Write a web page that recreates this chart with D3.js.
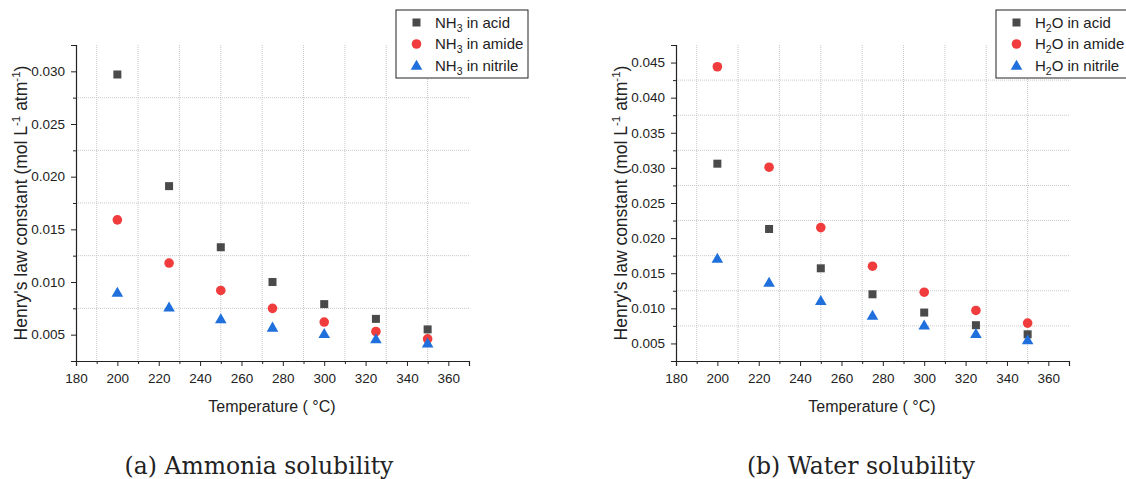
<!DOCTYPE html>
<html>
<head>
<meta charset="utf-8">
<script src="https://cdn.jsdelivr.net/npm/d3@7"></script>
<style>
  body { margin: 0; background: #fff; }
  text { font-family: "Liberation Sans", Arial, sans-serif; fill: #222; }
</style>
</head>
<body>
<div id="chart"></div>
<script>
// temperatures (deg C)
let temps = [200, 225, 250, 275, 300, 325, 350];

// NH3 Henry's law constants
let nh3Acid    = [0.0297, 0.0191, 0.0133, 0.0100, 0.0079, 0.0065, 0.0055];
let nh3Amide   = [0.0159, 0.0118, 0.0092, 0.0075, 0.0062, 0.0053, 0.0046];
let nh3Nitrile = [0.0090, 0.0076, 0.0065, 0.0057, 0.0051, 0.0046, 0.0042];

// H2O Henry's law constants
let h2oAcid    = [0.0306, 0.0213, 0.0157, 0.0120, 0.0094, 0.0076, 0.0063];
let h2oAmide   = [0.0444, 0.0301, 0.0215, 0.0160, 0.0123, 0.0097, 0.0079];
let h2oNitrile = [0.0171, 0.0137, 0.0111, 0.0090, 0.0076, 0.0064, 0.0055];

// axis ticks
let xTicks = [180, 200, 220, 240, 260, 280, 300, 320, 340, 360];
let xGrid = [190, 210, 230, 250, 270, 290, 310, 330, 350];
let leftYTicks = [0.005, 0.010, 0.015, 0.020, 0.025, 0.030];
let leftYGrid = [0.0075, 0.0125, 0.0175, 0.0225, 0.0275];
let rightYTicks = [0.005, 0.010, 0.015, 0.020, 0.025, 0.030, 0.035, 0.040, 0.045];
let rightYGrid = [0.0075, 0.0125, 0.0175, 0.0225, 0.0275, 0.0325, 0.0375, 0.0425];

let colors = {acid: "#4a4a4a", amide: "#f03c3c", nitrile: "#1f6fdd"};

let svg = d3.select("#chart").append("svg")
    .attr("width", 1126)
    .attr("height", 479);

drawPanel({
    left: 76, species: "NH", sub: "3", tail: "",
    yDomain: [0.0025, 0.0325], yTicks: leftYTicks, yGrid: leftYGrid,
    series: [nh3Acid, nh3Amide, nh3Nitrile],
    legendX: 396, legendW: 132,
    caption: "(a) Ammonia solubility", captionX: 259
});
drawPanel({
    left: 676, species: "H", sub: "2", tail: "O",
    yDomain: [0.0025, 0.0475], yTicks: rightYTicks, yGrid: rightYGrid,
    series: [h2oAcid, h2oAmide, h2oNitrile],
    legendX: 996, legendW: 132,
    caption: "(b) Water solubility", captionX: 861
});

function drawPanel(o){
    let top = 45, bottom = 361;
    let g = svg.append("g");

    let x = d3.scaleLinear().domain([180, 370]).range([o.left, o.left + 393]);
    let y = d3.scaleLinear().domain(o.yDomain).range([bottom, top]);

    // dotted grid at minor positions
    g.selectAll(".vgrid").data(xGrid).enter().append("line")
        .attr("x1", d => x(d)).attr("x2", d => x(d))
        .attr("y1", top).attr("y2", bottom)
        .attr("stroke", "#c8c8c8").attr("stroke-width", 1)
        .attr("stroke-dasharray", "1,1");
    g.selectAll(".hgrid").data(o.yGrid).enter().append("line")
        .attr("x1", o.left).attr("x2", x(370))
        .attr("y1", d => y(d)).attr("y2", d => y(d))
        .attr("stroke", "#c8c8c8").attr("stroke-width", 1)
        .attr("stroke-dasharray", "1,1");

    // x axis
    g.append("g")
        .attr("transform", "translate(0," + bottom + ")")
        .call(d3.axisBottom(x).tickValues(xTicks).tickSize(5).tickPadding(7).tickFormat(d3.format("d")));
    g.append("g")
        .attr("transform", "translate(0," + bottom + ")")
        .call(d3.axisBottom(x).tickValues(xGrid.concat([370])).tickSize(3).tickFormat(""))
        .select(".domain").remove();

    // y axis
    g.append("g")
        .attr("transform", "translate(" + o.left + ",0)")
        .call(d3.axisLeft(y).tickValues(o.yTicks).tickSize(5).tickPadding(6).tickFormat(d3.format(".3f")));
    g.append("g")
        .attr("transform", "translate(" + o.left + ",0)")
        .call(d3.axisLeft(y).tickValues(o.yGrid.concat([o.yDomain[1]])).tickSize(3).tickFormat(""))
        .select(".domain").remove();

    g.selectAll(".domain").attr("stroke", "#222").attr("stroke-width", 1.2);
    g.selectAll(".tick line").attr("stroke", "#222");
    g.selectAll(".tick text")
        .style("font-family", "Liberation Sans, Arial, sans-serif")
        .style("font-size", "13.5px").attr("fill", "#222");

    // axis titles
    g.append("text")
        .attr("x", (x(180) + x(370)) / 2 - 0.5)
        .attr("y", 412)
        .attr("text-anchor", "middle")
        .style("font-size", "16px")
        .text("Temperature ( \u00B0C)");

    let yt = g.append("text")
        .attr("transform", "translate(" + (o.left - 49) + "," + ((top + bottom) / 2) + ") rotate(-90)")
        .attr("text-anchor", "middle")
        .style("font-size", "17.5px");
    yt.append("tspan").text("Henry's law constant (mol L");
    yt.append("tspan").attr("dy", -7).style("font-size", "11.5px").text("-1");
    yt.append("tspan").attr("dy", 7).text(" atm");
    yt.append("tspan").attr("dy", -7).style("font-size", "11.5px").text("-1");
    yt.append("tspan").attr("dy", 7).text(")");

    // markers
    let [acid, amide, nitrile] = o.series;
    let tri = d3.symbol().type(d3.symbolTriangle).size(58);

    g.selectAll(".acid").data(acid).enter().append("rect")
        .attr("x", (d, i) => x(temps[i]) - 4)
        .attr("y", d => y(d) - 4)
        .attr("width", 8).attr("height", 8)
        .attr("fill", colors.acid);
    g.selectAll(".amide").data(amide).enter().append("circle")
        .attr("cx", (d, i) => x(temps[i]))
        .attr("cy", d => y(d))
        .attr("r", 4.8)
        .attr("fill", colors.amide);
    g.selectAll(".nitrile").data(nitrile).enter().append("path")
        .attr("d", tri)
        .attr("transform", (d, i) => "translate(" + x(temps[i]) + "," + (y(d) + 1) + ")")
        .attr("fill", colors.nitrile);

    // legend
    let lg = g.append("g").attr("transform", "translate(" + o.legendX + ",10)");
    lg.append("rect")
        .attr("width", o.legendW).attr("height", 68)
        .attr("fill", "#fff").attr("stroke", "#222").attr("stroke-width", 1);
    let labels = ["in acid", "in amide", "in nitrile"];
    labels.forEach((lab, i) => {
        let cy = 12.5 + i * 21.5;
        if (i === 0) {
            lg.append("rect").attr("x", 16.5).attr("y", cy - 4).attr("width", 8).attr("height", 8)
                .attr("fill", colors.acid);
        } else if (i === 1) {
            lg.append("circle").attr("cx", 20.5).attr("cy", cy).attr("r", 4.8).attr("fill", colors.amide);
        } else {
            lg.append("path").attr("d", tri).attr("transform", "translate(20.5," + (cy + 1) + ")")
                .attr("fill", colors.nitrile);
        }
        let t = lg.append("text").attr("x", 39).attr("y", cy + 5).style("font-size", "15px");
        t.append("tspan").text(o.species);
        t.append("tspan").attr("dy", 4).style("font-size", "10.5px").text(o.sub);
        t.append("tspan").attr("dy", -4).text(o.tail + " " + lab);
    });

    // caption
    g.append("text")
        .attr("x", o.captionX)
        .attr("y", 474)
        .attr("text-anchor", "middle")
        .style("font-family", "DejaVu Serif, Liberation Serif, serif")
        .style("font-size", "23.5px")
        .text(o.caption);
}
</script>
</body>
</html>
